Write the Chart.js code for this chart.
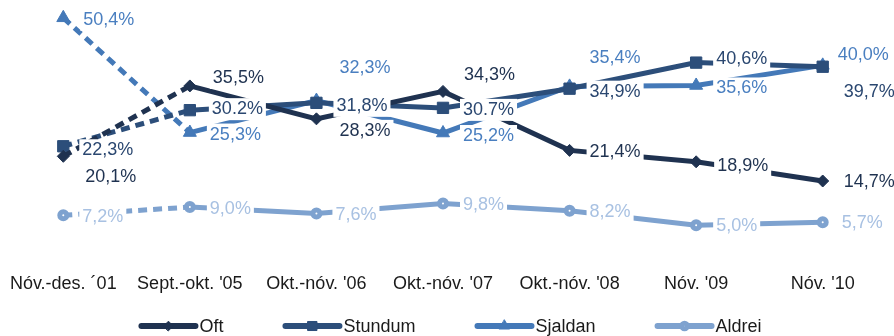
<!DOCTYPE html>
<html>
<head>
<meta charset="utf-8">
<script src="https://cdn.jsdelivr.net/npm/chart.js@4.4.1/dist/chart.umd.min.js"></script>
<style>
  html, body { margin: 0; padding: 0; background: #ffffff; }
  #wrap { width: 894px; height: 336px; }
</style>
</head>
<body>
<div id="wrap"><canvas id="chart"></canvas></div>
<script>
/* ---------- data ---------- */
const categories = ['Nóv.-des. ´01', "Sept.-okt. '05", "Okt.-nóv. '06", "Okt.-nóv. '07", "Okt.-nóv. '08", "Nóv. '09", "Nóv. '10"];
const oft     = [20.1, 35.5, 28.3, 34.3, 21.4, 18.9, 14.7];
const stundum = [22.3, 30.2, 31.8, 30.7, 34.9, 40.6, 39.7];
const sjaldan = [50.4, 25.3, 32.3, 25.2, 35.4, 35.6, 40.0];
const aldrei  = [7.2, 9.0, 7.6, 9.8, 8.2, 5.0, 5.7];

// a couple of labels were typed with a point instead of a comma
const dotDecimal = { 1: [1, 3] };

const FONT = '"Liberation Sans", Arial, sans-serif';

/* ---------- series ---------- */
function series(label, data, color, labelColor, style, radius, extra) {
  return Object.assign({
    label,
    data,
    borderColor: color,
    backgroundColor: color,
    pointBackgroundColor: color,
    pointBorderColor: color,
    pointBorderWidth: 1,
    pointStyle: style,
    pointRadius: radius,
    pointHoverRadius: radius,
    borderWidth: 5,
    tension: 0,
    clip: false,
    labelColor,
    segment: {
      // first stretch (2001 -> 2005) is dashed
      borderDash: ctx => ctx.p0DataIndex === 0 ? [9, 6] : undefined
    }
  }, extra || {});
}

const datasets = [
  series('Oft',     oft,     '#1f3250', '#1f3250', 'rectRot',  6),
  series('Stundum', stundum, '#2c4e7a', '#2a4770', 'rect',     8),
  series('Sjaldan', sjaldan, '#4479b8', '#4a7fc0', 'triangle', 7.5),
  series('Aldrei',  aldrei,  '#7ea2cf', '#a8c1e2', 'circle',   3.5, {
    pointBackgroundColor: '#ffffff',
    pointBorderWidth: 5
  })
];

/* ---------- value labels with white backing ---------- */
const valueLabels = {
  id: 'valueLabels',
  afterDatasetsDraw(chart, args, opts) {
    const ctx = chart.ctx;
    ctx.save();
    ctx.font = opts.size + 'px ' + FONT;
    ctx.textBaseline = 'middle';
    ctx.textAlign = 'left';
    chart.data.datasets.forEach((ds, di) => {
      const meta = chart.getDatasetMeta(di);
      meta.data.forEach((pt, i) => {
        const [dx, dy] = opts.offsets[di][i];
        const sep = (dotDecimal[di] || []).includes(i) ? '.' : ',';
        const text = ds.data[i].toFixed(1).replace('.', sep) + '%';
        const x = pt.x + dx;
        const y = pt.y + dy;
        const w = ctx.measureText(text).width;
        ctx.fillStyle = '#ffffff';
        ctx.fillRect(x - 3, y - 11, w + 6, 22);
        ctx.fillStyle = ds.labelColor;
        ctx.fillText(text, x, y);
      });
    });
    ctx.restore();
  }
};

/* ---------- legend: line + marker, centred under the axis ---------- */
const lineLegend = {
  id: 'lineLegend',
  afterDraw(chart, args, opts) {
    const ctx = chart.ctx;
    ctx.save();
    ctx.font = opts.size + 'px ' + FONT;
    ctx.textBaseline = 'middle';
    const items = chart.data.datasets.map(ds => ({ ds, w: opts.lineWidth + opts.textGap + ctx.measureText(ds.label).width }));
    const total = items.reduce((a, it) => a + it.w, 0) + opts.spacing * (items.length - 1);
    let x = (chart.width - total) / 2 + opts.shift;
    const y = opts.y;
    items.forEach(({ ds, w }) => {
      ctx.strokeStyle = ds.borderColor;
      ctx.lineWidth = 6;
      ctx.lineCap = 'round';
      ctx.setLineDash([]);
      ctx.beginPath();
      ctx.moveTo(x + 3, y);
      ctx.lineTo(x + opts.lineWidth - 3, y);
      ctx.stroke();
      ctx.fillStyle = ds.pointBackgroundColor;
      ctx.strokeStyle = ds.pointBorderColor;
      ctx.lineWidth = ds.pointBorderWidth;
      Chart.helpers.drawPoint(ctx, { pointStyle: ds.pointStyle, radius: ds.pointRadius * 0.8, rotation: 0, borderWidth: ds.pointBorderWidth }, x + opts.lineWidth / 2, y);
      ctx.fillStyle = '#1a1a1a';
      ctx.fillText(ds.label, x + opts.lineWidth + opts.textGap, y + 1);
      x += w + opts.spacing;
    });
    ctx.restore();
  }
};

new Chart(document.getElementById('chart'), {
  type: 'line',
  data: { labels: categories, datasets },
  plugins: [valueLabels, lineLegend],
  options: {
    responsive: true,
    maintainAspectRatio: false,
    animation: false,
    layout: { autoPadding: false, padding: { top: 0, left: -1, right: 8, bottom: 17 } },
    plugins: {
      legend: { display: false },
      tooltip: { enabled: false },
      valueLabels: {
        size: 18,
        offsets: [
          [[22, 21], [23, -8], [23, 12], [21, -16], [20, 2], [21, 4], [21, 1]],
          [[19, 4], [22, -1], [20, 3], [20, 2], [20, 3], [20, -4], [21, 25]],
          [[20, 2], [20, 2], [23, -33], [20, 3], [20, -28], [20, 3], [15, -10]],
          [[19, 2], [20, 2], [19, 2], [20, 2], [20, 1], [20, 1], [19, 1]]
        ]
      },
      lineLegend: { size: 18, y: 326, lineWidth: 60, textGap: 1, spacing: 59, shift: 3 }
    },
    scales: {
      x: {
        offset: true,
        grid: { display: false, drawTicks: false },
        border: { display: false },
        ticks: {
          autoSkip: false,
          maxRotation: 0,
          padding: 3,
          color: '#1a1a1a',
          font: { family: FONT, size: 18, lineHeight: 3.6 }
        }
      },
      y: {
        display: false,
        min: 0,
        max: 54.3
      }
    }
  }
});
</script>
</body>
</html>
